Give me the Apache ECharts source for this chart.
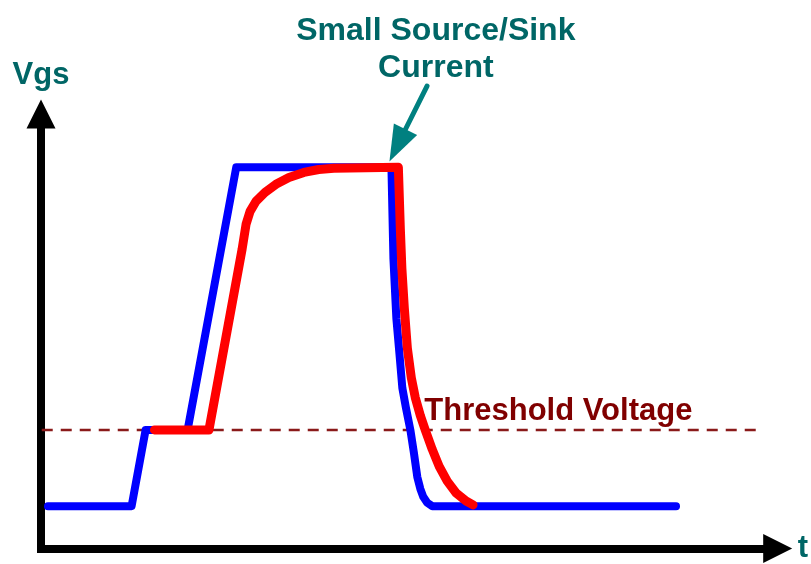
<!DOCTYPE html>
<html>
<head>
<meta charset="utf-8">
<script src="https://cdn.jsdelivr.net/npm/echarts@6/dist/echarts.min.js"></script>
<style>
  html, body { margin: 0; padding: 0; background: #fff; }
  #chart { width: 811px; height: 564px; }
</style>
</head>
<body>
<div id="chart"></div>
<script>
// gate voltage vs time (time in arbitrary units, Vgs in V)
const blueTime = [0.95, 12.3, 14.2, 19.9, 26.5, 47.57, 47.84, 48.24, 48.65, 49.05, 49.53, 50.14, 50.61, 51.08, 51.49, 51.89, 52.43, 53.11, 86.2];
const blueVgs  = [1, 1, 2.8, 2.8, 9, 9, 6.84, 5.43, 4.61, 3.79, 3.33, 2.8, 2.27, 1.69, 1.41, 1.22, 1.08, 1, 1];

const redTime = [15.4, 22.8, 27.3, 27.84, 28.38, 29.19, 30.41, 31.89, 33.65, 35.68, 37.7, 39.73, 48.51,
  48.78, 48.99, 49.32, 49.73, 50.27, 50.81, 51.49, 52.16, 53.11, 54.05, 55.14, 56.35, 57.7, 58.65];
const redVgs  = [2.8, 2.8, 7.07, 7.66, 7.96, 8.2, 8.41, 8.6, 8.76, 8.88, 8.95, 8.98, 9,
  7.54, 6.61, 5.67, 4.73, 4.03, 3.56, 3.14, 2.8, 2.34, 1.94, 1.59, 1.31, 1.12, 1.03];

const thresholdVgs = 2.8;
const thresholdSpan = [0.1, 97.4];

// annotation anchors (data coords)
const noteLines = ['Small Source/Sink', 'Current'];
const noteX = 53.6;
const noteY = [12.22, 11.34];
const arrowFrom = [52.4, 10.92];
const arrowTo = [47.3, 9.14];
const thresholdLabel = 'Threshold Voltage';
const thresholdLabelAt = [52.03, 3.24];

const TEAL = '#006666';
const FONT = '"Liberation Sans", Arial, sans-serif';

const zip = (xs, ys) => xs.map((x, i) => [x, ys[i]]);

const chart = echarts.init(document.getElementById('chart'));

chart.setOption({
  animation: false,
  grid: { left: 41, right: 30, top: 114, bottom: 12 },
  xAxis: {
    type: 'value',
    min: 0,
    max: 100,
    name: 't',
    nameLocation: 'end',
    nameGap: 20,
    nameTextStyle: { color: TEAL, fontSize: 31, fontWeight: 'bold', fontFamily: FONT },
    axisLine: {
      onZero: false,
      symbol: ['none', 'triangle'],
      symbolSize: [29, 29],
      lineStyle: { color: '#000', width: 8, cap: 'square' }
    },
    axisTick: { show: false },
    axisLabel: { show: false },
    splitLine: { show: false }
  },
  yAxis: {
    type: 'value',
    min: 0,
    max: 10.26,
    name: 'Vgs',
    nameLocation: 'end',
    nameGap: 23,
    nameTextStyle: { color: TEAL, fontSize: 31, fontWeight: 'bold', fontFamily: FONT },
    axisLine: {
      show: true,
      symbol: ['none', 'triangle'],
      symbolSize: [29, 29],
      lineStyle: { color: '#000', width: 8, cap: 'square' }
    },
    axisTick: { show: false },
    axisLabel: { show: false },
    splitLine: { show: false }
  },
  series: [
    {
      name: 'threshold',
      type: 'line',
      data: thresholdSpan.map((x) => [x, thresholdVgs]),
      symbol: 'none',
      lineStyle: { color: '#8a1a1a', width: 2.5, type: [11, 8] },
      z: 1
    },
    {
      name: 'large current',
      type: 'line',
      data: zip(blueTime, blueVgs),
      symbol: 'none',
      lineStyle: { color: '#0000ff', width: 8, cap: 'round', join: 'round' },
      z: 2
    },
    {
      name: 'small current',
      type: 'line',
      data: zip(redTime, redVgs),
      symbol: 'none',
      lineStyle: { color: '#ff0000', width: 9, cap: 'round', join: 'round' },
      z: 3
    }
  ]
});

// text and arrow placed from data coords
function px(p) {
  return chart.convertToPixel({ gridIndex: 0 }, p);
}

const tail = px(arrowFrom);
const tip = px(arrowTo);
const dx = tip[0] - tail[0];
const dy = tip[1] - tail[1];
const len = Math.sqrt(dx * dx + dy * dy);
const ux = dx / len, uy = dy / len;
const headLen = 36, headW = 26;
const base = [tip[0] - ux * headLen, tip[1] - uy * headLen];

const graphics = [
  {
    type: 'line',
    shape: { x1: tail[0], y1: tail[1], x2: base[0] + ux * 2, y2: base[1] + uy * 2 },
    style: { stroke: '#008080', lineWidth: 5, lineCap: 'round' }
  },
  {
    type: 'polygon',
    shape: {
      points: [
        tip,
        [base[0] - uy * headW / 2, base[1] + ux * headW / 2],
        [base[0] + uy * headW / 2, base[1] - ux * headW / 2]
      ]
    },
    style: { fill: '#008080' }
  }
];

noteLines.forEach((t, i) => {
  const p = px([noteX, noteY[i]]);
  graphics.push({
    type: 'text',
    x: p[0],
    y: p[1],
    style: {
      text: t,
      fill: TEAL,
      font: 'bold 32px ' + FONT,
      align: 'center',
      verticalAlign: 'middle'
    }
  });
});

const tl = px(thresholdLabelAt);
graphics.push({
  type: 'text',
  x: tl[0],
  y: tl[1],
  style: {
    text: thresholdLabel,
    fill: '#800000',
    font: 'bold 31px ' + FONT,
    align: 'left',
    verticalAlign: 'middle'
  }
});

chart.setOption({ graphic: graphics });
</script>
</body>
</html>
